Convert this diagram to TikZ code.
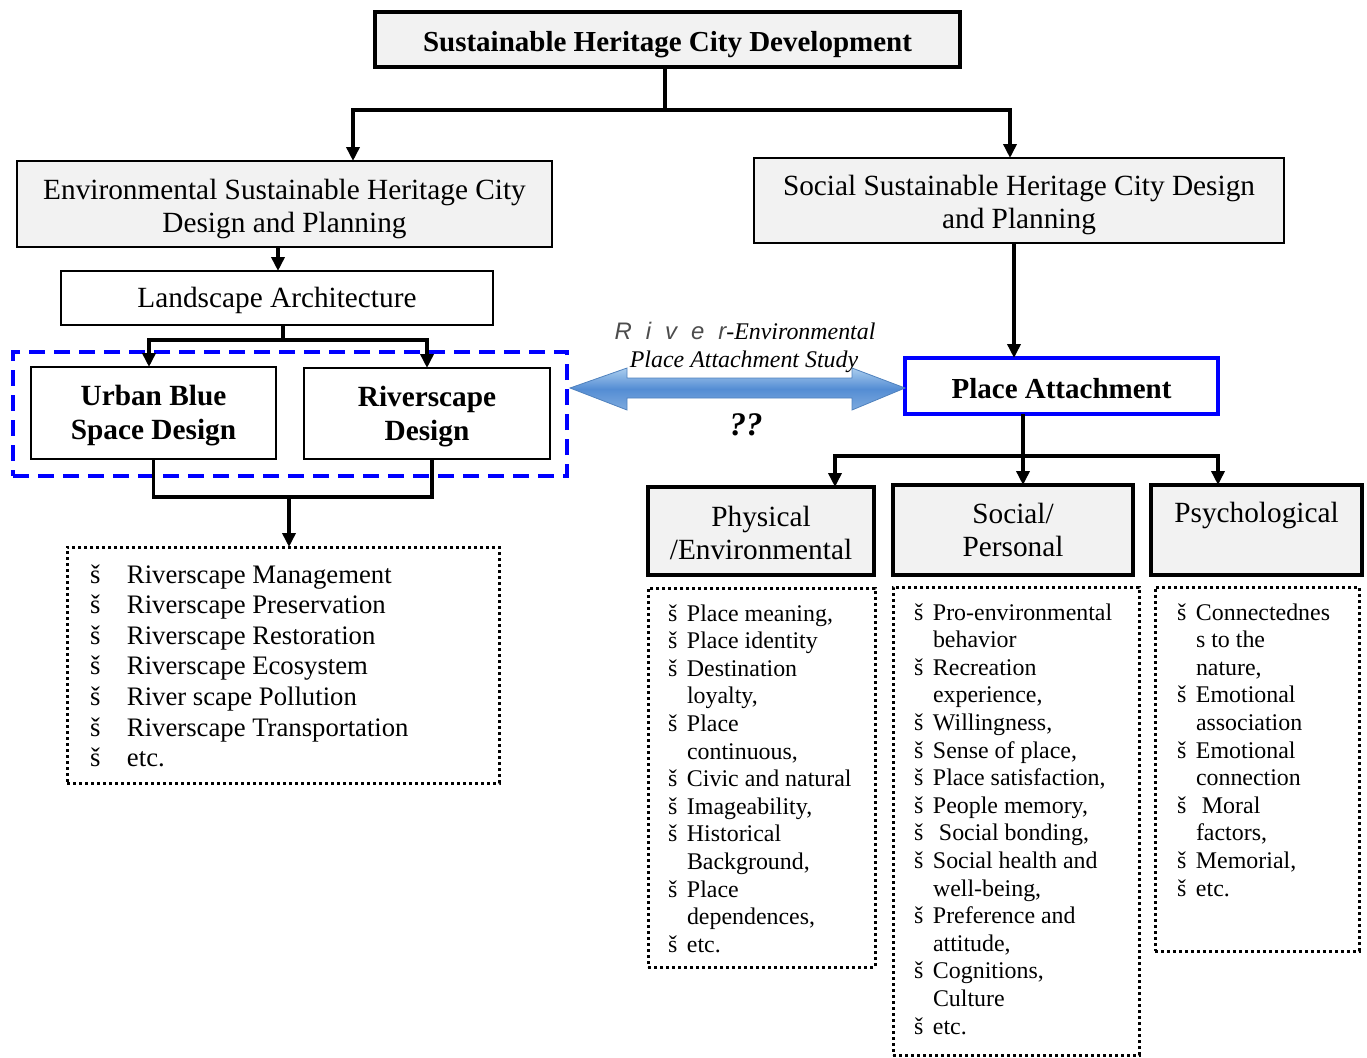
\documentclass[tikz,border=0pt]{standalone}
\usepackage{fontspec}
\setmainfont{Liberation Serif}
\setsansfont{Liberation Sans}
\usetikzlibrary{arrows.meta,calc}
\definecolor{boxgray}{HTML}{F2F2F2}
\definecolor{myblue}{RGB}{0,0,255}
\definecolor{arrlight}{RGB}{170,205,238}
\definecolor{arrmid}{RGB}{84,141,212}
\definecolor{arrlow}{RGB}{125,170,222}
\definecolor{arredge}{RGB}{79,129,189}
\newcommand\fs[2]{\fontsize{#1}{#2}\selectfont}
\newcommand\bitem[2]{\par\noindent\makebox[#1][l]{š}#2}
\newcommand\bcont[2]{\par\noindent\hspace*{#1}#2}
\begin{document}
\begin{tikzpicture}[x=1pt,y=-1pt,
  every node/.style={inner sep=0pt, outer sep=0pt},
  conn/.style={line width=3.6pt},
  arr/.style={conn,-{Triangle[length=14pt,width=13pt]}},
  thinbox/.style={draw, line width=1.8pt},
  thickbox/.style={draw, line width=3.2pt},
  listbox/.style={draw, line width=3pt, dash pattern=on 3pt off 3pt},
  listtext/.style={anchor=base west},
  hfont/.style={font=\fs{29.3}{33}, align=center},
  bfont/.style={font=\fs{29.3}{34}\bfseries, align=center}
]
\useasboundingbox (0,0) rectangle (1367,1057);

% top
\node[thickbox, fill=boxgray, minimum width=585pt, minimum height=55pt] (top) at (667.5,39.5) {};
\node[font=\fs{29}{33}\bfseries] (topt) at (667.5,44.5) {Sustainable Heritage City Development};

% second level
\node[thinbox, fill=boxgray, minimum width=535pt, minimum height=86pt] (env) at (284.5,204) {};
\node[hfont] (envt) at (284.5,209) {Environmental Sustainable Heritage City\\Design and Planning};
\node[thinbox, fill=boxgray, minimum width=530pt, minimum height=85pt] (soc) at (1019,200.5) {};
\node[hfont] (soct) at (1019,205) {Social Sustainable Heritage City Design\\and Planning};

% landscape
\node[thinbox, fill=white, minimum width=432pt, minimum height=54pt] (land) at (277,298) {};
\node[hfont] (landt) at (277,300) {Landscape Architecture};

% dashed group
\node[draw=myblue, line width=3.6pt, dash pattern=on 16pt off 9pt, minimum width=554pt, minimum height=124pt] (dash) at (290,414) {};
\node[thinbox, fill=white, minimum width=245pt, minimum height=92pt] (urban) at (153.5,413) {};
\node[bfont] (urbant) at (153.5,416) {Urban Blue\\Space Design};
\node[thinbox, fill=white, minimum width=246pt, minimum height=91pt] (river) at (427,413.5) {};
\node[bfont] (rivert) at (427,417) {Riverscape\\Design};

% left list
\node[listbox, minimum width=432pt, minimum height=236pt] (llist) at (283,665) {};
\node[listtext] (lltext) at (90,583) {\begin{minipage}[t]{400pt}\fs{26.7}{30.6}
\bitem{37pt}{Riverscape Management}
\bitem{37pt}{Riverscape Preservation}
\bitem{37pt}{Riverscape Restoration}
\bitem{37pt}{Riverscape Ecosystem}
\bitem{37pt}{River scape Pollution}
\bitem{37pt}{Riverscape Transportation}
\bitem{37pt}{etc.}
\end{minipage}};

% place attachment
\node[draw=myblue, line width=3.4pt, fill=white, minimum width=313pt, minimum height=56pt] (pa) at (1061.5,386) {};
\node[font=\fs{29}{33}\bfseries] (pat) at (1061.5,389) {Place Attachment};

% double arrow
\draw[arredge, line width=0.8pt, top color=arrlight, bottom color=arrlow, middle color=arrmid]
  (570,388) -- (627,368) -- (627,378) -- (852,378) -- (852,368) -- (905,388)
  -- (852,410) -- (852,398) -- (627,398) -- (627,410) -- cycle;
\node[anchor=base, font=\fs{23.9}{28}] (rlab1) at (745,339)
  {{\sffamily\itshape\color{black!70}R\hspace{14pt}i\hspace{14pt}v\hspace{14pt}e\hspace{14pt}r}\itshape -Environmental};
\node[anchor=base, font=\fs{23.9}{28}\itshape] (rlab2) at (744,367) {Place Attachment Study};
\node[anchor=base, font=\fs{33}{36}\bfseries\itshape] (qq) at (746,435) {??};

% categories
\node[thickbox, fill=boxgray, minimum width=226pt, minimum height=88pt] (phys) at (761,531) {};
\node[hfont] (physt) at (761,533) {Physical\\/Environmental};
\node[thickbox, fill=boxgray, minimum width=240pt, minimum height=90pt] (socp) at (1013,530) {};
\node[hfont] (socpt) at (1013,530) {Social/\\Personal};
\node[thickbox, fill=boxgray, minimum width=211pt, minimum height=90pt] (psy) at (1256.5,530) {};
\node[hfont, anchor=base] (psyt) at (1256.5,522) {Psychological};

% right lists
\node[listbox, minimum width=227pt, minimum height=379pt] (plist) at (761.5,777.5) {};
\node[listbox, minimum width=246pt, minimum height=468pt] (slist) at (1016,821) {};
\node[listbox, minimum width=204pt, minimum height=364pt] (qlist) at (1257,769) {};

\node[listtext] (ptext) at (668,621) {\begin{minipage}[t]{220pt}\fs{23.9}{27.6}
\bitem{19pt}{Place meaning,}
\bitem{19pt}{Place identity}
\bitem{19pt}{Destination}
\bcont{19pt}{loyalty,}
\bitem{19pt}{Place}
\bcont{19pt}{continuous,}
\bitem{19pt}{Civic and natural}
\bitem{19pt}{Imageability,}
\bitem{19pt}{Historical}
\bcont{19pt}{Background,}
\bitem{19pt}{Place}
\bcont{19pt}{dependences,}
\bitem{19pt}{etc.}
\end{minipage}};

\node[listtext] (stext) at (914,620) {\begin{minipage}[t]{240pt}\fs{23.9}{27.6}
\bitem{19pt}{Pro-environmental}
\bcont{19pt}{behavior}
\bitem{19pt}{Recreation}
\bcont{19pt}{experience,}
\bitem{19pt}{Willingness,}
\bitem{19pt}{Sense of place,}
\bitem{19pt}{Place satisfaction,}
\bitem{19pt}{People memory,}
\bitem{19pt}{\hspace{6pt}Social bonding,}
\bitem{19pt}{Social health and}
\bcont{19pt}{well-being,}
\bitem{19pt}{Preference and}
\bcont{19pt}{attitude,}
\bitem{19pt}{Cognitions,}
\bcont{19pt}{Culture}
\bitem{19pt}{etc.}
\end{minipage}};

\node[listtext] (qtext) at (1177,620) {\begin{minipage}[t]{200pt}\fs{23.9}{27.6}
\bitem{19pt}{Connectednes}
\bcont{19pt}{s to the}
\bcont{19pt}{nature,}
\bitem{19pt}{Emotional}
\bcont{19pt}{association}
\bitem{19pt}{Emotional}
\bcont{19pt}{connection}
\bitem{19pt}{\hspace{6pt}Moral}
\bcont{19pt}{factors,}
\bitem{19pt}{Memorial,}
\bitem{19pt}{etc.}
\end{minipage}};

% connectors
\coordinate (j1) at ($(top.south)+(-2.5,43)$);
\draw[conn] ([xshift=-2.5pt]top.south) -- (j1);
\draw[arr] (j1) -| ([xshift=68.5pt]env.north);
\draw[arr] (j1) -| ([xshift=-9pt]soc.north);

\draw[arr] ([xshift=-6.5pt]env.south) -- ([xshift=-6.5pt]env.south |- land.north);

\coordinate (j2) at ($(land.south)+(6,15)$);
\draw[conn] ([xshift=6pt]land.south) -- (j2);
\draw[arr] (j2) -| ([xshift=-4.5pt]urban.north);
\draw[arr] (j2) -| (river.north);

\draw[conn] (urban.south) -- ++(0,38) -| ([xshift=5pt]river.south);
\coordinate (j3) at ([xshift=6pt,yshift=-38pt]llist.north |- urban.south);
\draw[arr] (j3) -- ([xshift=6pt]llist.north);

\draw[arr] ([xshift=-5pt]soc.south) -- ([xshift=-5pt]soc.south |- pa.north);

\coordinate (j4) at ($(pa.south)+(-38.5,42)$);
\draw[conn] ([xshift=-38.5pt]pa.south) -- (j4);
\draw[arr] (j4) -| ([xshift=74pt]phys.north);
\draw[arr] (j4) -- (j4 |- socp.north);
\draw[arr] (j4) -| ([xshift=-38.5pt]psy.north);
\end{tikzpicture}
\end{document}
